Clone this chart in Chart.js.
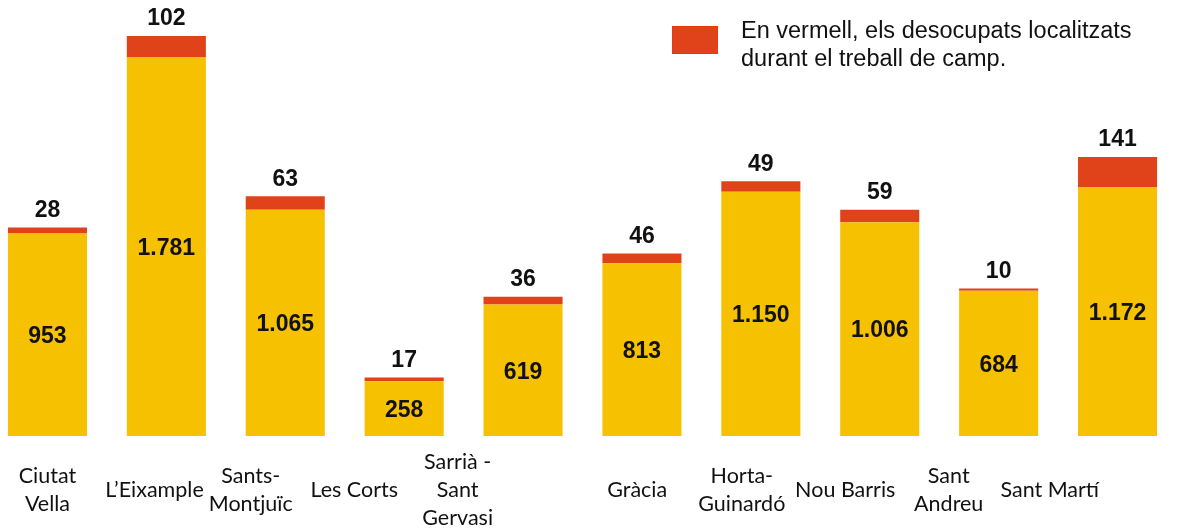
<!DOCTYPE html>
<html>
<head>
<meta charset="utf-8">
<script src="https://cdn.jsdelivr.net/npm/chart.js@4"></script>
<style>
  html, body { margin: 0; padding: 0; background: #fff; overflow: hidden; }
  #wrap { position: absolute; left: -12px; top: 0; width: 1189px; height: 528px; }
  #legend { position: absolute; left: 672px; top: 16px; font-family: "Liberation Sans", Arial, sans-serif;
            font-size: 23.5px; line-height: 28px; color: #111; }
  #legend .box { position: absolute; left: 0; top: 10px; width: 44px; height: 26px;
                 background: #e0431a; border: 1px dotted #ff2a00; }
  #legend .txt { position: absolute; left: 69px; top: 0; white-space: nowrap; }
</style>
</head>
<body>
<div id="wrap"><canvas id="chart-container"></canvas></div>
<div id="legend"><div class="box"></div><div class="txt">En vermell, els desocupats localitzats<br>durant el treball de camp.</div></div>
<script>
// districtes
const districtes = [
    ["Ciutat", "Vella"], "L\u2019Eixample", ["Sants-", "Montju\u00efc"], "Les Corts",
    ["Sarri\u00e0 -", "Sant", "Gervasi"], "Gr\u00e0cia", ["Horta-", "Guinard\u00f3"],
    "Nou Barris", ["Sant", "Andreu"], "Sant Mart\u00ed"
];
const sense_llar = [953, 1781, 1065, 258, 619, 813, 1150, 1006, 684, 1172];
const localitzats = [28, 102, 63, 17, 36, 46, 49, 59, 10, 141];
// label shift (in category units) so names sit like in the original slide
const label_shift = [0, -0.10, -0.29, -0.42, -0.55, -0.04, -0.16, -0.29, -0.42, -0.57];

function fmt(v) {
    return v.toString().replace(/\B(?=(\d{3})+(?!\d))/g, ".");
}

const valueLabels = {
    id: 'valueLabels',
    afterDatasetsDraw(chart) {
        const ctx = chart.ctx;
        ctx.save();
        ctx.font = 'bold 23px "Liberation Sans", Arial, sans-serif';
        ctx.fillStyle = '#111';
        ctx.textAlign = 'center';
        ctx.textBaseline = 'middle';
        chart.getDatasetMeta(0).data.forEach((bar, i) => {
            ctx.fillText(fmt(sense_llar[i]), bar.x, (bar.y + bar.base) / 2 + 2);
        });
        chart.getDatasetMeta(1).data.forEach((bar, i) => {
            ctx.fillText(fmt(localitzats[i]), bar.x, bar.y - 17);
        });
        ctx.restore();
    }
};

const canv = document.querySelector('#chart-container');
new Chart(canv, {
    type: 'bar',
    data: {
        labels: districtes,
        datasets: [
            {
                label: 'Persones sense llar',
                data: sense_llar,
                backgroundColor: '#f6c100',
                barPercentage: 0.665,
                categoryPercentage: 1
            },
            {
                label: 'Localitzats',
                data: localitzats,
                backgroundColor: '#e0431a',
                barPercentage: 0.665,
                categoryPercentage: 1
            }
        ]
    },
    options: {
        responsive: true,
        maintainAspectRatio: false,
        animation: false,
        layout: { padding: 0 },
        plugins: {
            legend: { display: false },
            tooltip: { enabled: false }
        },
        scales: {
            x: { stacked: true, display: false },
            names: {
                type: 'linear',
                position: 'bottom',
                min: -0.5,
                max: 9.5,
                offset: false,
                grid: { display: false, drawTicks: false },
                border: { display: false },
                afterBuildTicks: (scale) => {
                    scale.ticks = districtes.map((d, i) => ({ value: i + label_shift[i] }));
                },
                afterFit: (scale) => { scale.height = 92; },
                ticks: {
                    autoSkip: false,
                    maxRotation: 0,
                    minRotation: 0,
                    padding: 26,
                    crossAlign: 'center',
                    color: '#111',
                    font: { family: 'Lato, "Open Sans", sans-serif', size: 21.5, lineHeight: 1.3 },
                    callback: (value, index) => districtes[index]
                }
            },
            y: {
                stacked: true,
                display: false,
                min: 0,
                max: 2052
            }
        }
    },
    plugins: [valueLabels]
});
</script>
</body>
</html>
